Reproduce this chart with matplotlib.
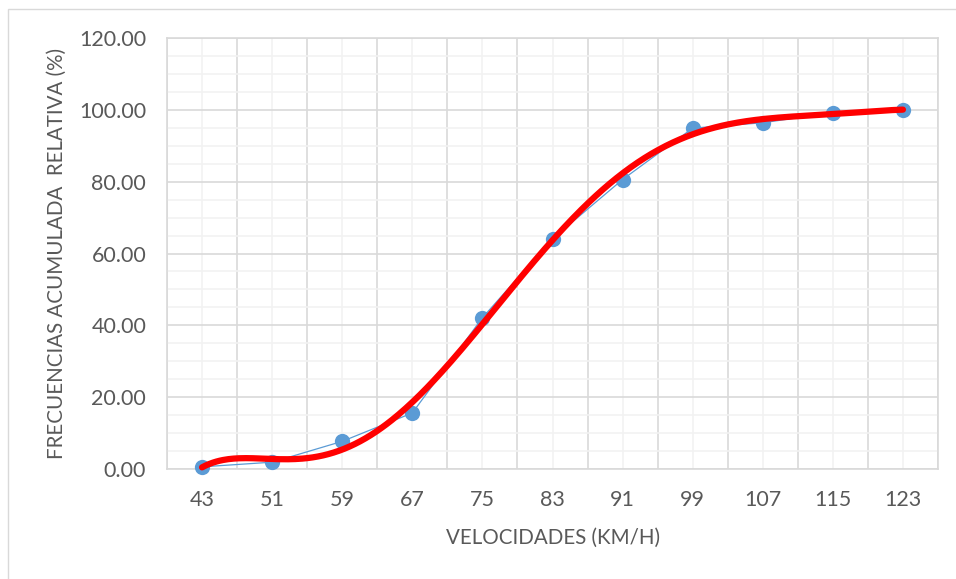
import numpy as np
import matplotlib
matplotlib.use("Agg")
import matplotlib.pyplot as plt
from matplotlib.patches import Rectangle

categories = ["43", "51", "59", "67", "75", "83", "91", "99", "107", "115", "123"]
values = [0.6, 1.9, 7.7, 15.6, 42.1, 64.1, 80.6, 94.9, 96.4, 99.2, 100.0]
y_ticks = [0, 20, 40, 60, 80, 100, 120]

plt.rcParams['font.family'] = ['Lato', 'DejaVu Sans']
TXT = '#595959'

fig = plt.figure(figsize=(9.56, 5.79), dpi=100)
W, H = 956, 579
# outer chart border
fig.patches.append(Rectangle((8 / W, -0.1), 1.2, 1.1 - 9 / H, transform=fig.transFigure,
                             fill=False, edgecolor='#D9D9D9', linewidth=1.0))

ax = fig.add_axes([167 / W, (H - 469) / H, 771 / W, 431 / H])
n = len(categories)
xs = np.arange(n)

ax.set_xlim(-0.5, n - 0.5)
ax.set_ylim(0, 120)

# grid
ax.set_xticks(np.arange(-0.5, n, 1.0))
ax.set_xticks(xs, minor=True)
ax.set_yticks(y_ticks)
ax.set_yticks(np.arange(0, 121, 5), minor=True)
ax.grid(which='major', color='#D9D9D9', linewidth=1.2, zorder=0)
ax.grid(which='minor', color='#F2F2F2', linewidth=1.2, zorder=0)
ax.set_axisbelow(True)

ax.tick_params(axis='x', which='both', length=0, labelbottom=False)
ax.tick_params(axis='y', which='both', length=0, pad=15, labelsize=15.5, labelcolor=TXT)
ax.set_yticklabels([f"{v:.2f}" for v in y_ticks])
for i, c in enumerate(categories):
    ax.text(i, -0.048, c, transform=ax.get_xaxis_transform(), ha='center', va='top',
            fontsize=15.5, color=TXT)

for s in ax.spines.values():
    s.set_color('#D9D9D9')
    s.set_linewidth(1.2)

# data series
ax.plot(xs, values, color='#5B9BD5', linewidth=0.9, marker='o', markersize=11,
        markeredgewidth=0, zorder=3, clip_on=False)

# polynomial trendline (order 6, Excel-style on category index 1..n)
idx = np.arange(1, n + 1)
coef = np.polyfit(idx, values, 6)
fine = np.linspace(1, n, 400)
ax.plot(fine - 1, np.polyval(coef, fine), color='#FF0000', linewidth=4.5,
        solid_capstyle='round', zorder=4, clip_on=False)

fig.text(553 / W, 1 - 538 / H, "VELOCIDADES (KM/H)", ha='center', va='center',
         fontsize=14.8, color=TXT)
fig.text(57 / W, 1 - 254 / H, "FRECUENCIAS ACUMULADA  RELATIVA (%)", ha='center',
         va='center', rotation=90, fontsize=14.8, color=TXT)

fig.savefig("out.png", dpi=100)
